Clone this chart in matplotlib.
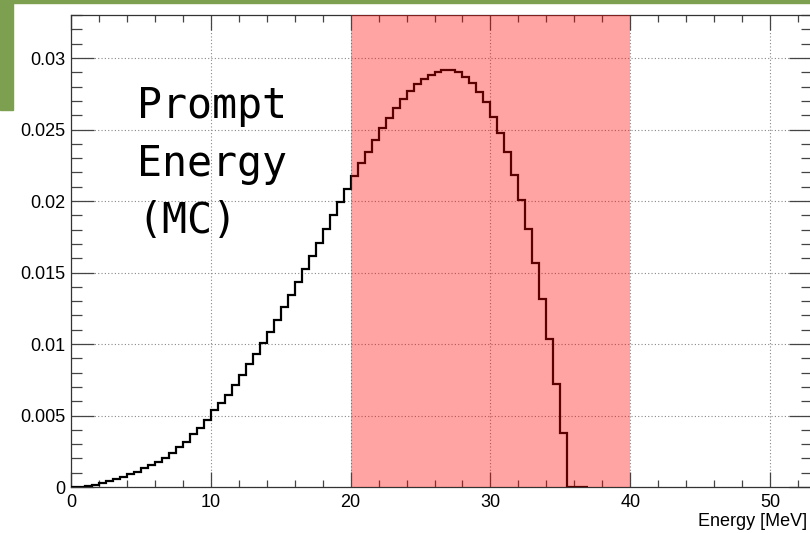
import numpy as np
import matplotlib.pyplot as plt
from matplotlib.patches import Rectangle
from matplotlib.ticker import MultipleLocator, FixedLocator, FixedFormatter

# prompt energy spectrum (MC), 0.5 MeV bins starting at 0
bin_width = 0.5
counts = [0.00001, 0.00003, 0.00007, 0.00016, 0.00026, 0.00042, 0.00056, 0.00072, 0.00091, 0.00107,
          0.0013, 0.00154, 0.00177, 0.00205, 0.0024, 0.00282, 0.00317, 0.00368, 0.0041, 0.0047,
          0.00538, 0.00585, 0.00643, 0.00713, 0.00783, 0.00858, 0.0093, 0.01005, 0.01086, 0.01168,
          0.01256, 0.01343, 0.01436, 0.01522, 0.01615, 0.01709, 0.01802, 0.01902, 0.01995, 0.02082,
          0.02177, 0.02263, 0.02345, 0.02427, 0.02508, 0.02583, 0.02653, 0.02711, 0.02769, 0.02816,
          0.02853, 0.02881, 0.02904, 0.02918, 0.02914, 0.029, 0.02869, 0.02823, 0.0276, 0.0269,
          0.0259, 0.02473, 0.0234, 0.02182, 0.02007, 0.01802, 0.01569, 0.01312, 0.01033, 0.00718,
          0.00375, 0.00003, 0.00001, 0.00001]

# selection window
window = (20, 40)

x_ticks = [0, 10, 20, 30, 40, 50]
y_ticks = [0, 0.005, 0.01, 0.015, 0.02, 0.025, 0.03]
y_labels = ['0', '0.005', '0.01', '0.015', '0.02', '0.025', '0.03']
note_lines = ['Prompt', 'Energy', '(MC)']

W, H = 810, 533
fig = plt.figure(figsize=(W / 100, H / 100), dpi=100)
fig.patch.set_facecolor('white')

# bits of the green slide background around the edges
green = '#7c9f50'
fig.patches.append(Rectangle((0, 1 - 3 / H), 1, 3 / H, transform=fig.transFigure,
                             color=green, zorder=0))
fig.patches.append(Rectangle((0, 1 - 110 / H), 13 / W, 110 / H, transform=fig.transFigure,
                             color=green, zorder=0))

# frame goes a little past the right edge, like the cropped screenshot
left, right, top, bottom = 71, 812, 14.7, 487
ax = fig.add_axes([left / W, 1 - bottom / H, (right - left) / W, (bottom - top) / H])

edges = np.arange(len(counts) + 1) * bin_width
ax.stairs(counts, edges, color='black', linewidth=1.6, zorder=3)

ax.axvspan(window[0], window[1], color='red', alpha=0.36, linewidth=0, zorder=5)

ax.set_xlim(0, 53.0)
ax.set_ylim(0, 0.03303)

ax.xaxis.set_major_locator(FixedLocator(x_ticks))
ax.xaxis.set_minor_locator(MultipleLocator(2))
ax.yaxis.set_major_locator(FixedLocator(y_ticks))
ax.yaxis.set_major_formatter(FixedFormatter(y_labels))
ax.yaxis.set_minor_locator(MultipleLocator(0.001))

ax.grid(True, which='major', color='#888888', linestyle=(0, (1, 2)), linewidth=0.8)

tick_color = '#444444'
ax.tick_params(axis='both', which='both', direction='in', colors=tick_color,
               labelcolor='black', labelsize=13, width=0.9)
ax.tick_params(axis='x', which='major', length=10.5, top=True, pad=5)
ax.tick_params(axis='x', which='minor', length=5, top=True)
ax.tick_params(axis='y', which='major', length=16.5, right=True, pad=4)
ax.tick_params(axis='y', which='minor', length=8, right=True)
for lab in ax.get_xticklabels() + ax.get_yticklabels():
    lab.set_family('Liberation Sans')

for s in ax.spines.values():
    s.set_color('#333333')
    s.set_linewidth(0.9)

# axis title, right aligned just inside the image edge
ax.set_xlabel('Energy [MeV]', fontsize=13, family='Liberation Sans', ha='right')
ax.xaxis.set_label_coords((807 - left) / (right - left), -0.055)

# big monospace note
for i, line in enumerate(note_lines):
    fig.text(137 / W, 1 - (118.3 + 57.6 * i) / H, line, family='DejaVu Sans Mono',
             fontsize=30, ha='left', va='baseline')

fig.savefig('out.png', dpi=100)
